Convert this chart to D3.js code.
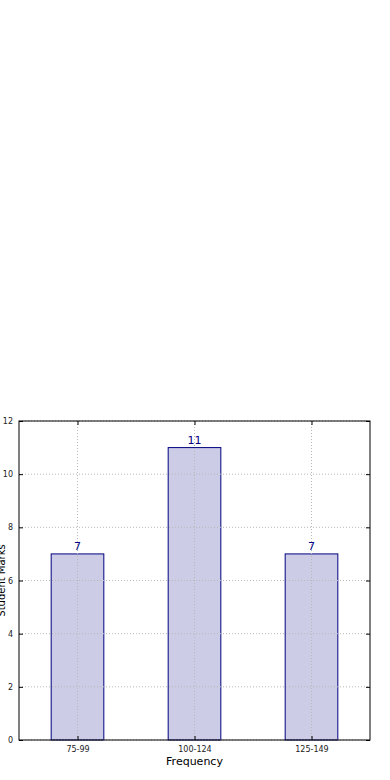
<!DOCTYPE html>
<html><head><meta charset="utf-8">
<script src="https://cdn.jsdelivr.net/npm/d3@7"></script>
<style>body{margin:0;background:#fff;} svg{display:block;}</style>
</head><body>
<script>
const categories = ["75-99", "100-124", "125-149"];
const values = [7, 11, 7];
const yTicks = [0, 2, 4, 6, 8, 10, 12];
const xLabel = "Frequency";
const yLabel = "Student Marks";

const W = 390, H = 780;
const m = {left: 19, right: 20, top: 421, bottom: 40};
const svg = d3.select("body").append("svg").attr("width", W).attr("height", H);
const iw = W - m.left - m.right, ih = H - m.top - m.bottom;
const g = svg.append("g").attr("transform", `translate(${m.left},${m.top})`);

const x = d3.scaleLinear().domain([-0.5, categories.length - 0.5]).range([0, iw]);
const y = d3.scaleLinear().domain([0, 12]).range([ih, 0]);
const bw = 0.45;

// bars
g.selectAll(".bar").data(values).join("rect")
  .attr("x", (d, i) => x(i - bw / 2)).attr("width", x(bw) - x(0))
  .attr("y", d => y(d)).attr("height", d => ih - y(d))
  .attr("fill", "rgba(0,0,128,0.2)").attr("stroke", "#000080").attr("stroke-width", 1);

// grid lines over bars (as in matplotlib classic)
g.selectAll(".gx").data(categories).join("line")
  .attr("x1", (d, i) => x(i)).attr("x2", (d, i) => x(i)).attr("y1", 0).attr("y2", ih)
  .attr("stroke", "#b8b8b8").attr("stroke-dasharray", "1,2").attr("stroke-width", 1);
g.selectAll(".gy").data(yTicks).join("line")
  .attr("x1", 0).attr("x2", iw).attr("y1", d => y(d)).attr("y2", d => y(d))
  .attr("stroke", "#b8b8b8").attr("stroke-dasharray", "1,2").attr("stroke-width", 1);

// value labels
g.selectAll(".val").data(values).join("text")
  .attr("x", (d, i) => x(i)).attr("y", d => y(d) - 4)
  .attr("text-anchor", "middle").attr("fill", "#000080")
  .attr("font-family", "DejaVu Sans").attr("font-size", 11).text(d => d);

// axes
const yAxis = d3.axisLeft(y).tickValues(yTicks).tickSize(-4).tickPadding(6);
const ya = g.append("g").call(yAxis);
ya.selectAll("text").attr("font-family", "DejaVu Sans").attr("font-size", 8).attr("fill", "#222");
ya.select(".domain").remove();
const yAxisR = d3.axisRight(y).tickValues(yTicks).tickSize(-4).tickFormat("");
const yr = g.append("g").attr("transform", `translate(${iw},0)`).call(yAxisR);
yr.select(".domain").remove();

const xAxis = d3.axisBottom(x).tickValues(d3.range(categories.length)).tickFormat(i => categories[i]).tickSize(-4).tickPadding(6);
const xa = g.append("g").attr("transform", `translate(0,${ih})`).call(xAxis);
xa.selectAll("text").attr("font-family", "DejaVu Sans").attr("font-size", 8).attr("fill", "#222");
xa.select(".domain").remove();
const xAxisT = d3.axisTop(x).tickValues(d3.range(categories.length)).tickSize(-4).tickFormat("");
const xt = g.append("g").call(xAxisT);
xt.select(".domain").remove();

// frame
g.append("rect").attr("width", iw).attr("height", ih).attr("fill", "none").attr("stroke", "#000").attr("stroke-width", 1);

// labels
svg.append("text").attr("x", m.left + iw / 2).attr("y", 765).attr("text-anchor", "middle")
  .attr("font-family", "DejaVu Sans").attr("font-size", 11).text(xLabel);
svg.append("text").attr("transform", `translate(5,${m.top + ih / 2}) rotate(-90)`).attr("text-anchor", "middle")
  .attr("font-family", "DejaVu Sans").attr("font-size", 10).text(yLabel);
</script>
</body></html>
